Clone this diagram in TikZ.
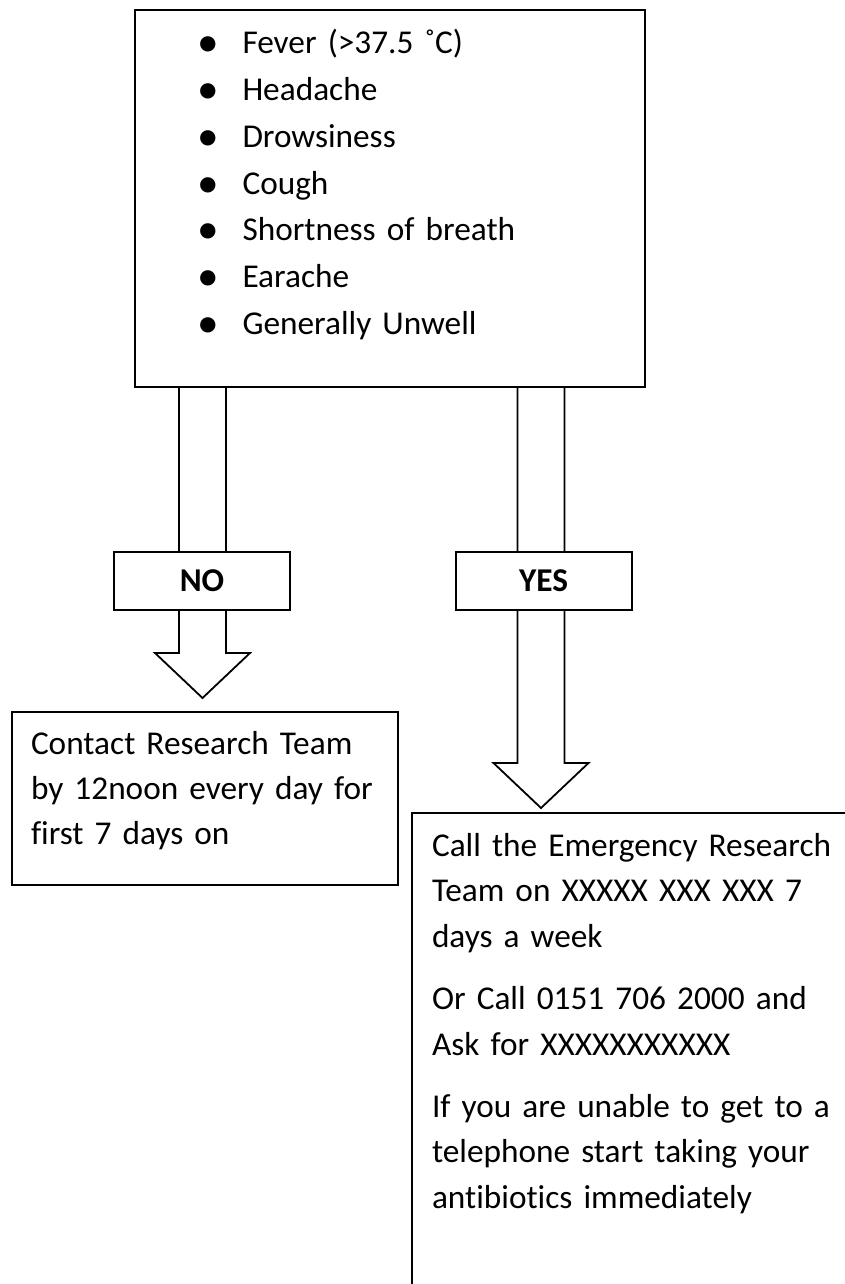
\documentclass[tikz,border=0pt]{standalone}
\usepackage{fontspec}
\setmainfont{Carlito}[Ligatures=CommonOff]
\usetikzlibrary{calc}

% hollow block arrow: from a point on the upper box down to its tip
\newcommand\fatarrow[2]{%
  \draw[fat] let \p1=(#1), \p2=(#2) in
    (\x2-23.5pt,\y1) -- (\x2-23.5pt,\y2+45pt) -- (\x2-47.5pt,\y2+45pt)
    -- (\p2) -- (\x2+47.5pt,\y2+45pt) -- (\x2+23.5pt,\y2+45pt) -- (\x2+23.5pt,\y1);}
\newcommand\symline[1]{\makebox[45.5pt][l]{\raisebox{-3pt}{\scalebox{1.3}{\textbullet}}}#1}

\begin{document}
\begin{tikzpicture}[
  x=1pt, y=-1pt,
  font=\fontsize{33.3}{46.7}\selectfont,
  box/.style={draw,line width=2pt,inner ysep=0pt,anchor=north west,align=left},
  tag/.style={draw,fill=white,line width=2pt,minimum width=176pt,minimum height=58pt,inner sep=0pt,font=\fontsize{33.3}{40}\selectfont\bfseries},
  fat/.style={draw,line width=1.8pt}
]
\useasboundingbox (0,0) rectangle (845,1284);
\begin{scope}
\clip (0,0) rectangle (845,1284);
% symptoms
\node[box,inner xsep=62pt,text width=386pt,text height=44pt,text depth=333pt] (sym) at (134,9)
  {\symline{Fever (>37.5 ˚C)}\\ \symline{Headache}\\ \symline{Drowsiness}\\ \symline{Cough}\\
   \symline{Shortness of breath}\\ \symline{Earache}\\ \symline{Generally Unwell}};
% outcomes
\node[box,inner xsep=19pt,text width=348pt,text height=42pt,text depth=131pt,font=\fontsize{33.3}{45}\selectfont] (nobox) at (11,711)
  {Contact Research Team\\ by 12noon every day for\\ first 7 days on};
\node[box,inner xsep=20pt,text width=440pt,text height=43pt,text depth=460pt,font=\fontsize{33.3}{45.8}\selectfont] (yesbox) at (411,812)
  {Call the Emergency Research\\ Team on XXXXX XXX XXX 7\\ days a week\\[16pt]
   Or Call 0151 706 2000 and\\ Ask for XXXXXXXXXXX\\[16pt]
   If you are unable to get to a\\ telephone start taking your\\ antibiotics immediately};
% arrows
\coordinate (notip) at (202.5,698);
\coordinate (yestip) at (541,808);
\fatarrow{sym.south -| notip}{notip}
\fatarrow{sym.south -| yestip}{yestip}
\node[tag] (no) at (202,581) {NO};
\node[tag] (yes) at (543.5,581) {YES};
\end{scope}
\end{tikzpicture}
\end{document}
